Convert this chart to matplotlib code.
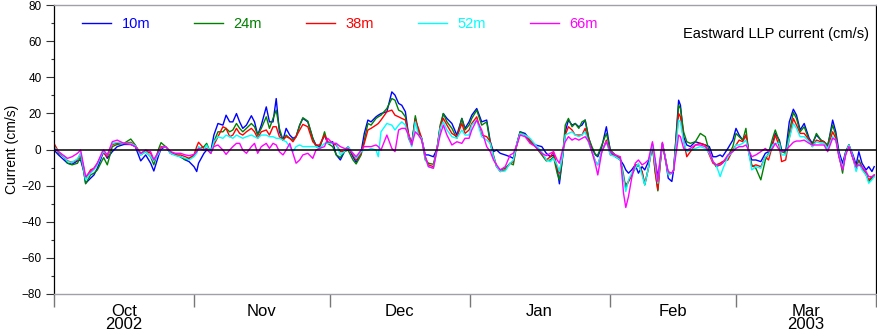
import matplotlib
matplotlib.use("Agg")
import matplotlib.pyplot as plt
import numpy as np

plt.rcParams['font.family'] = ['Liberation Sans', 'DejaVu Sans']

# days since 1 Oct 2002
days = [0.0, 1.0, 2.2, 3.0, 4.0, 5.2, 5.9, 6.6, 7.0, 8.1, 8.85, 9.6, 10.7, 11.0, 11.8, 12.9, 14.0, 15.5, 17.0, 18.0,
        19.2, 20.3, 21.4, 22.1, 23.2, 23.7, 24.7, 25.8, 26.9, 28.0, 29.1, 29.9, 31.0, 31.6, 32.0, 33.2, 33.8, 34.7, 35.4, 36.3,
        37.4, 38.1, 38.9, 39.6, 40.4, 41.1, 41.8, 42.6, 43.7, 44.4, 45.1, 45.9, 47.0, 47.7, 48.5, 49.2, 49.9, 50.7, 51.4, 52.2,
        52.9, 53.6, 54.4, 55.1, 56.2, 57.3, 58.0, 58.8, 59.9, 60.6, 61.7, 62.5, 63.4, 64.3, 65.1, 66.2, 66.9, 68.0, 68.7, 69.5,
        70.2, 71.3, 71.8, 72.4, 73.7, 74.8, 75.5, 76.3, 77.0, 77.8, 78.5, 79.2, 80.0, 80.7, 81.4, 82.2, 82.9, 84.0, 84.8, 85.5,
        86.2, 87.0, 88.1, 89.2, 90.3, 91.0, 91.9, 92.5, 93.6, 94.7, 95.8, 96.6, 97.3, 98.0, 98.8, 99.9, 101.0, 101.7, 102.5, 103.2,
        104.3, 105.4, 106.6, 108.0, 109.0, 109.9, 110.6, 111.4, 111.9, 112.5, 113.2, 113.9, 114.7, 115.4, 116.2, 116.9, 117.6, 118.4, 119.1, 119.9,
        120.4, 121.3, 122.3, 123.2, 124.3, 125.4, 126.1, 126.6, 127.2, 127.9, 128.7, 129.4, 130.2, 130.8, 131.6, 132.5, 133.1, 133.7, 134.2, 134.7,
        135.3, 136.0, 136.8, 137.2, 137.9, 138.3, 138.7, 139.4, 140.1, 140.9, 142.0, 143.1, 144.2, 145.1, 145.9, 146.6, 147.5, 148.0, 149.2, 150.3,
        151.0, 151.7, 152.5, 153.2, 153.8, 154.5, 155.4, 156.5, 157.5, 158.2, 159.1, 159.7, 160.6, 161.1, 162.0, 162.8, 163.7, 164.4, 165.2, 166.1,
        167.2, 167.9, 168.8, 169.8, 170.5, 171.3, 172.4, 173.1, 173.8, 174.6, 175.3, 176.0, 176.9, 177.6, 178.2, 178.9, 179.8, 180.4, 181.1, 181.6]

u10 = [-0.3, -3.0, -5.8, -7.6, -8.2, -6.3, -5.8, -12.2, -18.7, -15.9, -14.1, -10.4, -3.0, -1.2, -4.9, -1.2, 1.6, 2.8, 2.8, 1.6,
       -6.3, -3.0, -7.6, -11.9, -3.0, 0.3, 1.6, -2.1, -3.0, -4.0, -5.8, -6.7, -9.5, -12.2, -7.6, -2.1, -0.3, -1.2, 8.0, 14.4,
       13.5, 19.0, 15.3, 15.3, 19.9, 15.3, 11.7, 13.5, 18.7, 15.3, 8.0, 13.5, 23.6, 15.3, 15.3, 28.2, 9.8, 5.2, 11.7, 8.0,
       6.2, 7.1, 13.5, 17.2, 15.3, 6.2, 2.5, 1.6, 8.0, 3.4, 4.3, -3.0, -5.8, -1.2, 1.6, -4.0, -7.1, -1.2, 8.9, 16.3,
       15.3, 18.1, 19.0, 19.9, 20.9, 31.9, 30.1, 25.5, 24.5, 20.9, 8.0, 3.4, 17.2, 9.8, 6.2, -3.0, -3.0, -4.0, 0.3, 11.7,
       19.9, 17.2, 14.4, 8.0, 17.2, 11.7, 15.3, 19.0, 22.7, 15.3, 16.3, 4.3, -1.2, -0.3, -2.1, -3.0, -4.0, -4.9, 3.4, 9.8,
       8.9, 5.2, 2.5, 1.6, -2.1, -4.0, -3.0, -10.4, -19.0, -6.7, 9.8, 16.3, 13.5, 14.4, 12.6, 13.5, 16.3, 6.2, 0.6, -3.0,
       -4.0, 1.6, 12.6, -1.2, -4.0, -5.8, -8.5, -11.3, -13.1, -11.3, -8.5, -13.1, -9.5, -11.3, -6.7, 0.6, -6.7, -15.0, -6.7, 2.8,
       -4.0, -15.9, -17.7, -11.3, 13.5, 27.3, 24.5, 7.1, 2.5, 1.6, 4.3, 3.4, 2.5, 1.6, -4.0, -4.0, -3.0, -4.0, 0.6, 5.2,
       11.7, 8.0, 5.2, 8.0, -0.3, -5.8, -5.8, -6.7, -2.1, -1.2, 3.4, 8.9, 5.2, -0.3, -1.2, 15.3, 22.3, 19.0, 10.8, 14.4,
       6.2, 3.4, 8.0, 5.2, 4.3, 1.6, 16.3, 9.8, -1.2, -7.6, -1.2, 2.5, -3.0, -8.5, -1.2, -7.6, -11.3, -9.5, -12.2, -9.5]

u24 = [2.5, -2.1, -4.0, -7.6, -8.5, -7.6, -4.0, -12.2, -19.0, -14.1, -13.1, -11.3, -5.8, -4.5, -8.5, 1.6, 2.8, 3.4, 5.8, 2.5,
       -3.0, -1.2, -4.0, -8.5, 0.6, 3.8, 1.6, -2.1, -3.0, -4.0, -5.8, -4.9, -3.4, -1.2, 0.6, 1.6, 3.4, -2.1, 4.3, 9.8,
       9.8, 11.7, 9.8, 10.8, 14.4, 11.7, 9.8, 11.7, 14.4, 12.6, 8.0, 11.7, 18.1, 11.7, 17.2, 21.8, 11.7, 5.2, 8.0, 6.2,
       5.2, 7.1, 13.5, 17.6, 15.7, 6.2, 1.6, 0.6, 9.8, 3.4, 1.6, -3.0, -4.5, -1.2, -0.3, -5.8, -8.0, -3.0, 5.2, 14.4,
       13.5, 17.2, 18.1, 19.0, 22.7, 28.2, 27.3, 21.8, 20.9, 18.1, 6.2, 2.5, 18.7, 9.8, 6.2, -5.8, -7.6, -8.2, 0.3, 13.5,
       19.9, 15.3, 11.7, 6.2, 17.2, 10.8, 13.5, 17.2, 21.8, 13.5, 15.3, 3.4, -3.0, -9.5, -11.3, -10.4, -7.6, -8.5, 3.4, 9.8,
       8.0, 4.3, 1.6, -3.0, -6.3, -5.8, -4.0, -13.1, -16.8, -6.7, 13.5, 17.2, 12.6, 14.4, 11.7, 15.3, 16.3, 6.2, 1.6, -3.0,
       -3.0, 2.5, 8.9, -0.3, -3.0, -4.9, -14.1, -21.4, -17.7, -14.1, -10.4, -8.5, -12.2, -19.6, -10.4, 2.8, -12.2, -22.9, -8.5, 3.4,
       -4.0, -13.1, -13.1, -11.3, 11.7, 24.5, 22.7, 9.8, 4.3, 3.4, 4.3, 8.9, 7.1, -1.2, -6.7, -9.5, -8.5, -7.6, -4.0, 1.6,
       8.9, 7.1, 5.2, 11.7, -1.2, -8.5, -10.4, -16.8, -5.8, -2.1, 6.2, 10.8, 4.3, -1.2, -2.1, 9.8, 20.5, 17.2, 9.8, 12.6,
       5.2, 2.5, 8.9, 5.2, 4.3, 2.5, 13.5, 8.0, -3.0, -13.1, -1.2, 2.5, -4.9, -9.5, -5.8, -9.5, -13.1, -17.7, -15.9, -14.1]

u38 = [3.4, -1.2, -4.0, -6.3, -7.1, -5.8, -2.1, -10.4, -15.9, -11.3, -10.4, -7.6, -2.1, -2.1, -4.0, 2.8, 3.4, 3.4, 4.0, 2.1,
       -2.1, -0.8, -2.1, -5.8, -1.2, 1.6, 1.6, -1.2, -3.0, -3.0, -4.0, -4.9, -3.0, 1.6, 4.0, 0.6, 0.6, -2.1, 2.5, 7.1,
       12.6, 11.7, 7.1, 8.0, 11.7, 8.9, 8.0, 9.8, 11.7, 9.8, 6.2, 9.8, 10.8, 8.0, 12.6, 12.6, 7.1, 5.2, 7.1, 6.2,
       4.3, 7.1, 10.8, 13.9, 12.6, 4.3, 2.5, 2.5, 8.0, 4.3, 3.4, 2.5, -1.2, -1.2, 1.6, -3.0, -5.8, -2.1, 3.4, 10.8,
       11.7, 13.5, 14.4, 16.3, 20.9, 21.8, 19.0, 18.1, 17.2, 16.3, 8.9, 2.5, 16.3, 11.7, 6.2, -4.0, -8.5, -9.5, 0.3, 12.6,
       17.2, 13.5, 8.9, 7.1, 14.4, 8.9, 10.8, 14.4, 18.1, 8.0, 7.1, 4.3, -4.0, -9.5, -12.2, -11.3, -7.6, -6.7, 2.8, 8.9,
       8.0, 5.2, 1.6, -2.1, -5.8, -4.0, -1.2, -10.4, -13.1, -4.9, 8.0, 12.6, 10.8, 8.0, 8.0, 8.0, 11.7, 4.3, -1.2, -6.7,
       -8.5, -1.2, 5.2, -3.0, -3.0, -5.8, -16.8, -19.6, -17.7, -14.1, -8.5, -8.5, -12.2, -19.2, -10.4, 2.8, -12.2, -22.3, -8.5, 3.4,
       -4.0, -14.1, -13.1, -11.3, 8.0, 19.9, 18.1, 5.2, -4.0, -1.2, 2.5, 3.4, 2.5, -3.0, -7.6, -8.5, -7.6, -6.7, -5.8, -0.3,
       2.5, 5.2, 4.3, 8.0, -1.2, -9.5, -8.5, -9.5, -4.0, -5.8, 2.5, 8.0, 1.6, -6.7, -5.8, 6.2, 17.2, 13.5, 8.9, 8.9,
       5.2, 1.6, 5.2, 4.3, 4.3, 0.6, 9.8, 6.2, -4.0, -10.4, -2.1, 2.5, -4.9, -11.3, -6.7, -10.4, -14.1, -16.8, -15.0, -15.0]

u52 = [1.6, -1.2, -4.0, -6.7, -7.1, -5.2, -2.1, -11.3, -16.8, -13.1, -11.3, -8.5, -2.1, -1.2, -3.0, 3.4, 4.0, 3.4, 3.4, 2.1,
       -3.0, -1.2, -4.0, -6.3, -2.1, 1.0, 1.6, -2.1, -3.4, -4.0, -4.9, -5.8, -4.0, -2.1, 1.6, -0.3, 2.5, -2.1, 4.3, 7.1,
       6.2, 8.0, 7.1, 6.2, 8.0, 7.1, 6.2, 7.1, 8.0, 7.1, 6.2, 8.0, 8.0, 7.1, 7.1, 6.2, 6.2, 5.2, 4.3, 1.6,
       -1.2, 1.6, 2.5, 1.6, 1.6, 1.6, 1.6, 0.6, 3.4, 3.4, 3.4, 3.4, -3.0, -1.2, 1.6, -2.1, -4.9, -1.2, -0.3, -0.3,
       0.6, -0.3, -4.0, 9.8, 14.4, 13.5, 10.8, 13.5, 15.3, 13.5, 7.1, 1.6, 15.3, 8.0, 6.2, -4.9, -9.5, -10.4, -0.3, 11.7,
       15.3, 10.8, 7.1, 6.2, 10.8, 8.0, 8.0, 13.5, 16.3, 7.1, 5.2, 3.4, -4.0, -9.5, -12.2, -11.9, -7.6, -5.8, 3.4, 8.9,
       8.0, 6.2, 2.5, -1.2, -5.8, -6.7, -4.9, -8.5, -12.2, -4.9, 8.0, 8.9, 9.8, 8.0, 7.1, 8.0, 9.8, 3.4, -1.2, -6.7,
       -8.5, -1.2, 4.3, -3.0, -4.0, -5.8, -15.9, -23.3, -16.8, -13.1, -10.4, -7.6, -14.1, -19.6, -10.4, 3.4, -8.5, -18.7, -6.7, 3.4,
       -4.0, -14.1, -13.1, -11.3, 6.2, 16.3, 15.3, 4.3, -1.2, -0.3, 0.6, 1.6, 0.6, -2.1, -6.7, -8.5, -15.0, -11.3, -4.0, -1.2,
       2.5, 2.5, 3.4, 5.2, -1.2, -11.3, -9.5, -10.4, -4.0, -3.0, 2.5, 3.4, 3.4, -3.0, -3.0, 6.2, 14.4, 11.7, 7.1, 7.1,
       4.3, 1.6, 4.3, 3.4, 3.4, 0.6, 7.1, 5.2, -3.0, -10.4, -2.1, 2.5, -4.0, -12.2, -7.6, -11.3, -14.1, -18.7, -16.8, -15.0]

u66 = [0.6, -1.2, -3.4, -4.9, -4.0, -2.1, -0.3, -9.5, -15.0, -12.2, -10.4, -7.6, -1.2, -0.3, -3.0, 4.3, 5.2, 3.4, 2.8, 1.6,
       -2.1, -0.3, -1.2, -5.8, -1.2, 1.0, 1.6, -1.2, -2.1, -2.1, -3.0, -3.4, -2.7, -1.2, 0.6, -0.3, 0.3, -2.1, 1.6, 2.5,
       -0.3, -2.7, -0.3, 1.6, 3.4, 3.4, -0.3, -2.1, 1.6, 3.4, -2.1, 1.6, 3.4, 0.6, 3.4, 2.5, -1.2, -3.0, -0.3, 3.4,
       -2.1, -7.6, -5.8, -3.0, -2.1, -4.9, -0.3, 0.6, 1.6, 6.2, 3.4, 3.4, 1.6, 0.6, 0.6, -2.1, -4.0, -0.3, 1.6, 1.6,
       1.6, 2.5, 1.6, -0.3, 8.0, 0.6, -1.2, 10.8, 11.7, 11.7, 8.0, 2.5, 9.8, 8.0, 5.2, -4.0, -9.5, -10.4, -0.3, 8.0,
       13.5, 8.0, 2.5, 4.3, 3.4, 6.2, 6.2, 10.8, 16.3, 10.8, 1.6, -1.2, -5.8, -8.5, -11.3, -9.5, -3.0, -2.1, 2.5, 8.0,
       7.1, 3.4, 1.6, -2.1, -3.4, -2.1, -1.2, -5.8, -7.6, -1.2, 4.3, 7.1, 5.2, 6.2, 5.2, 6.2, 7.1, 4.3, -1.2, -8.5,
       -14.1, -1.2, 4.3, -1.2, -3.0, -4.0, -24.2, -32.1, -26.0, -15.9, -7.6, -5.8, -8.5, -7.6, -5.8, 4.3, -4.9, -17.7, -4.9, 4.0,
       -4.9, -12.2, -13.1, -11.3, 0.6, 8.0, 7.1, 0.6, -0.3, 0.6, 2.5, 2.5, 1.6, -1.2, -6.7, -8.5, -8.5, -7.6, -3.0, -1.2,
       0.6, 1.6, 1.6, 2.5, -0.3, -4.0, -3.0, -1.2, 0.6, -1.2, 0.6, 3.4, -0.3, -1.2, -0.3, 1.6, 4.0, 4.7, 4.7, 5.2,
       3.4, 2.5, 2.5, 2.5, 2.5, -1.2, 6.2, 5.2, -4.0, -11.3, -3.0, 1.6, -4.9, -9.5, -8.5, -9.5, -12.2, -15.0, -15.0, -14.1]

series_labels = ["10m", "24m", "38m", "52m", "66m"]
series_colors = ["#0000ff", "#008000", "#ff0000", "#00ffff", "#ff00ff"]

month_starts = [0, 31, 61, 92, 123, 151, 182]
month_labels = ["Oct\n2002", "Nov", "Dec", "Jan", "Feb", "Mar\n2003"]

fig = plt.figure(figsize=(8.77, 3.36), dpi=100)
ax = fig.add_axes([54 / 877, 1 - 294 / 336, 822 / 877, 289 / 336])

for vals, lab, col in zip([u10, u24, u38, u52, u66], series_labels, series_colors):
    ax.plot(days, vals, color=col, lw=1.0, label=lab, solid_joinstyle="round")

ax.axhline(0, color="black", lw=1.1, zorder=5)

ax.set_xlim(month_starts[0], month_starts[-1])
ax.set_ylim(-80, 80)

ax.set_yticks(np.arange(-80, 81, 20))
ax.set_yticks(np.arange(-80, 81, 10), minor=True)
ax.tick_params(axis="y", which="major", length=5.5, width=0.8, direction="out", labelsize=8.5, pad=3.5, color="#333333")
ax.tick_params(axis="y", which="minor", length=2.5, width=0.8, direction="out", color="#333333")

ax.set_xticks(month_starts)
ax.set_xticklabels([])
mids = [(a + b) / 2 for a, b in zip(month_starts[:-1], month_starts[1:])]
ax.set_xticks(mids, minor=True)
ax.set_xticklabels(month_labels, minor=True, fontsize=12, linespacing=0.85)
ax.tick_params(axis="x", which="major", length=9.5, width=1.0, direction="out", color="#777777")
ax.tick_params(axis="x", which="minor", length=0, pad=7)

for s in ["top", "bottom"]:
    ax.spines[s].set_color("#a0a0a8")
    ax.spines[s].set_linewidth(1.0)
for s in ["left", "right"]:
    ax.spines[s].set_color("black")
    ax.spines[s].set_linewidth(0.9)

ax.set_ylabel("Current (cm/s)", fontsize=10, labelpad=2)

leg = ax.legend(loc="upper left", bbox_to_anchor=(0.034, 0.958), ncol=5, frameon=False,
                fontsize=10.5, handlelength=2.0, handletextpad=0.72, columnspacing=3.0,
                borderaxespad=0, borderpad=0, labelcolor="linecolor")

ax.text(0.9915, 0.898, "Eastward LLP current (cm/s)", transform=ax.transAxes,
        ha="right", va="center", fontsize=10.5)

fig.savefig("out.png", dpi=100)
